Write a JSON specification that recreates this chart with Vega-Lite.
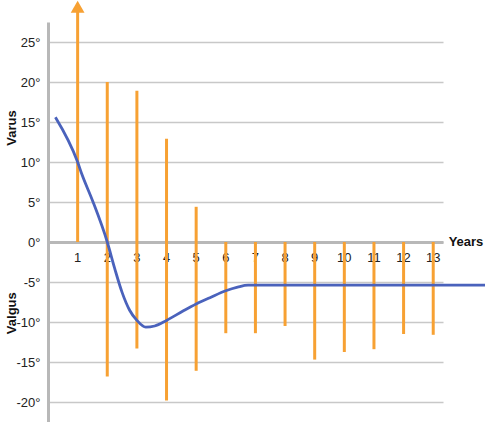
{
  "$schema": "https://vega.github.io/schema/vega-lite/v6.json",
  "width": 395,
  "height": 400,
  "autosize": {"type": "none"},
  "padding": {"left": 48, "top": 22, "right": 42, "bottom": 0},
  "background": "white",
  "config": {
    "view": {"stroke": null},
    "font": "Liberation Sans"
  },
  "datasets": {
    "bars": [
      {"year": 1, "high": 29, "low": 0},
      {"year": 2, "high": 20.0, "low": -16.8},
      {"year": 3, "high": 18.9, "low": -13.3},
      {"year": 4, "high": 12.9, "low": -19.8},
      {"year": 5, "high": 4.4, "low": -16.1},
      {"year": 6, "high": 0, "low": -11.4},
      {"year": 7, "high": 0, "low": -11.4},
      {"year": 8, "high": 0, "low": -10.5},
      {"year": 9, "high": 0, "low": -14.7},
      {"year": 10, "high": 0, "low": -13.75},
      {"year": 11, "high": 0, "low": -13.4},
      {"year": 12, "high": 0, "low": -11.5},
      {"year": 13, "high": 0, "low": -11.6}
    ],
    "curve": [
      {"x": 0.25, "y": 15.6},
      {"x": 1.0, "y": 10.0},
      {"x": 1.15, "y": 8.4},
      {"x": 1.5, "y": 5.2},
      {"x": 2.0, "y": 0.0},
      {"x": 2.25, "y": -3.3},
      {"x": 2.5, "y": -6.3},
      {"x": 2.75, "y": -8.5},
      {"x": 3.0, "y": -9.8},
      {"x": 3.3, "y": -10.65},
      {"x": 3.6, "y": -10.5},
      {"x": 4.0, "y": -9.8},
      {"x": 4.57, "y": -8.6},
      {"x": 5.0, "y": -7.75},
      {"x": 5.5, "y": -6.9},
      {"x": 6.0, "y": -6.1},
      {"x": 6.4, "y": -5.65},
      {"x": 6.75, "y": -5.4},
      {"x": 14.8, "y": -5.4}
    ],
    "arrow": [{"year": 1, "tip": 29.4}],
    "labels": [
      {"text": "Years", "x": 13.52, "y": 0, "rot": 0},
      {"text": "Varus", "x": -1.2, "y": 14.25, "rot": 270},
      {"text": "Valgus", "x": -1.2, "y": -8.9, "rot": 270}
    ]
  },
  "encoding": {},
  "layer": [
    {
      "data": {"name": "bars"},
      "mark": {"type": "text", "fontSize": 13, "font": "Liberation Sans", "color": "#222222", "baseline": "middle", "align": "center", "dy": 16},
      "encoding": {
        "x": {
          "field": "year", "type": "quantitative",
          "scale": {"domain": [0, 13.33], "nice": false, "zero": false},
          "axis": {
            "orient": "bottom", "offset": -180, "labels": false,
            "title": null, "grid": false, "ticks": false,
            "domainColor": "#B8B8B8", "domainWidth": 3
          }
        },
        "y": {
          "datum": 0, "type": "quantitative",
          "scale": {"domain": [-22.5, 27.5], "nice": false, "zero": false},
          "axis": {
            "orient": "left", "values": [-20,-15,-10,-5,0,5,10,15,20,25],
            "labelExpr": "datum.value + '°'", "title": null,
            "grid": true, "gridColor": "#C8C8C8", "gridWidth": 1.5,
            "ticks": false, "domainColor": "#B8B8B8", "domainWidth": 3,
            "labelFontSize": 13, "labelColor": "#222222", "labelPadding": 8,
            "labelFont": "Liberation Sans"
          }
        },
        "text": {"field": "year", "type": "quantitative", "format": "d"}
      }
    },
    {
      "data": {"name": "bars"},
      "mark": {"type": "rule", "color": "#F7A133", "strokeWidth": 3},
      "encoding": {
        "x": {"field": "year", "type": "quantitative"},
        "y": {"field": "high", "type": "quantitative"},
        "y2": {"field": "low"}
      }
    },
    {
      "data": {"name": "arrow"},
      "mark": {"type": "point", "shape": "triangle-up", "filled": true, "color": "#F7A133", "size": 190, "opacity": 1},
      "encoding": {
        "x": {"field": "year", "type": "quantitative"},
        "y": {"field": "tip", "type": "quantitative"}
      }
    },
    {
      "data": {"name": "curve"},
      "mark": {"type": "line", "color": "#4A62BC", "strokeWidth": 2.8, "interpolate": "monotone"},
      "encoding": {
        "x": {"field": "x", "type": "quantitative"},
        "y": {"field": "y", "type": "quantitative"}
      }
    },
    {
      "data": {"name": "labels"},
      "mark": {"type": "text", "fontSize": 13, "fontWeight": "bold", "font": "Liberation Sans", "color": "#111111", "align": {"expr": "datum.rot == 0 ? 'left' : 'center'"}, "baseline": "middle"},
      "encoding": {
        "x": {"field": "x", "type": "quantitative"},
        "y": {"field": "y", "type": "quantitative"},
        "text": {"field": "text"},
        "angle": {"field": "rot", "type": "quantitative", "scale": null}
      }
    }
  ]
}
